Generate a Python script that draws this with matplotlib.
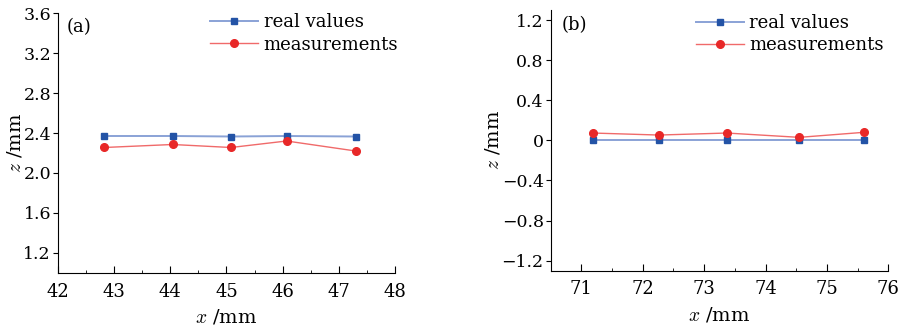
import matplotlib
matplotlib.use('Agg')
import matplotlib.pyplot as plt
from matplotlib.ticker import MultipleLocator

plt.rcParams['font.family'] = 'DejaVu Serif'
plt.rcParams['mathtext.fontset'] = 'cm'
plt.rcParams['font.size'] = 13

# panel (a)
xa = [42.82, 44.04, 45.08, 46.07, 47.30]
real_a = [2.37, 2.37, 2.365, 2.37, 2.365]
meas_a = [2.255, 2.285, 2.255, 2.32, 2.22]

# panel (b)
xb = [71.19, 72.26, 73.37, 74.55, 75.60]
real_b = [0.0, 0.0, 0.0, 0.0, 0.0]
meas_b = [0.073, 0.053, 0.073, 0.03, 0.08]

blue_line = '#8aa2d6'
blue_mark = '#2353a6'
red_line = '#f06a6a'
red_mark = '#e82828'

fig = plt.figure(figsize=(9.02, 3.26), dpi=100)
ax1 = fig.add_axes([0.0643, 0.1626, 0.3736, 0.7975])
ax2 = fig.add_axes([0.6105, 0.1696, 0.3743, 0.7997])


def style(ax, ylab_x):
    for s in ['top', 'right']:
        ax.spines[s].set_visible(False)
    ax.tick_params(axis='x', direction='in', which='major', length=5, pad=7)
    ax.tick_params(axis='x', direction='in', which='minor', length=2.5)
    ax.tick_params(axis='y', direction='out', length=3.5, pad=1.5, labelsize=12.5)
    ax.set_xlabel('$x$ /mm', labelpad=5, fontsize=14)
    ax.set_ylabel('$z$ /mm', fontsize=14)
    ax.yaxis.set_label_coords(ylab_x, 0.5)


def draw(ax, x, real, meas):
    ax.plot(x, real, color=blue_line, lw=1.4, marker='s', ms=5,
            mfc=blue_mark, mec=blue_mark, label='real values')
    ax.plot(x, meas, color=red_line, lw=1.0, marker='o', ms=5.5,
            mfc=red_mark, mec=red_mark, label='measurements')


legend_kw = dict(frameon=False, loc='upper left', handlelength=2.67,
                 handletextpad=0.3, labelspacing=0.25, borderpad=0,
                 borderaxespad=0)

draw(ax1, xa, real_a, meas_a)
style(ax1, -0.1)
ax1.set_xlim(42, 48)
ax1.set_ylim(1.0, 3.6)
ax1.xaxis.set_major_locator(MultipleLocator(1))
ax1.xaxis.set_minor_locator(MultipleLocator(0.5))
ax1.set_yticks([1.2, 1.6, 2.0, 2.4, 2.8, 3.2, 3.6])
ax1.set_yticklabels(['1.2', '1.6', '2.0', '2.4', '2.8', '3.2', '3.6'])
ax1.text(0.027, 0.98, '(a)', transform=ax1.transAxes, va='top', ha='left')
ax1.legend(bbox_to_anchor=(0.451, 1.0), **legend_kw)

draw(ax2, xb, real_b, meas_b)
style(ax2, -0.142)
ax2.set_xlim(70.5, 76)
ax2.set_ylim(-1.3, 1.3)
ax2.xaxis.set_major_locator(MultipleLocator(1))
ax2.xaxis.set_minor_locator(MultipleLocator(0.5))
ax2.set_yticks([-1.2, -0.8, -0.4, 0, 0.4, 0.8, 1.2])
ax2.set_yticklabels(['\u22121.2', '\u22120.8', '\u22120.4', '0', '0.4', '0.8', '1.2'])
ax2.text(0.033, 0.975, '(b)', transform=ax2.transAxes, va='top', ha='left')
ax2.legend(bbox_to_anchor=(0.4295, 0.985), **legend_kw)

fig.savefig('out.png', dpi=100)
